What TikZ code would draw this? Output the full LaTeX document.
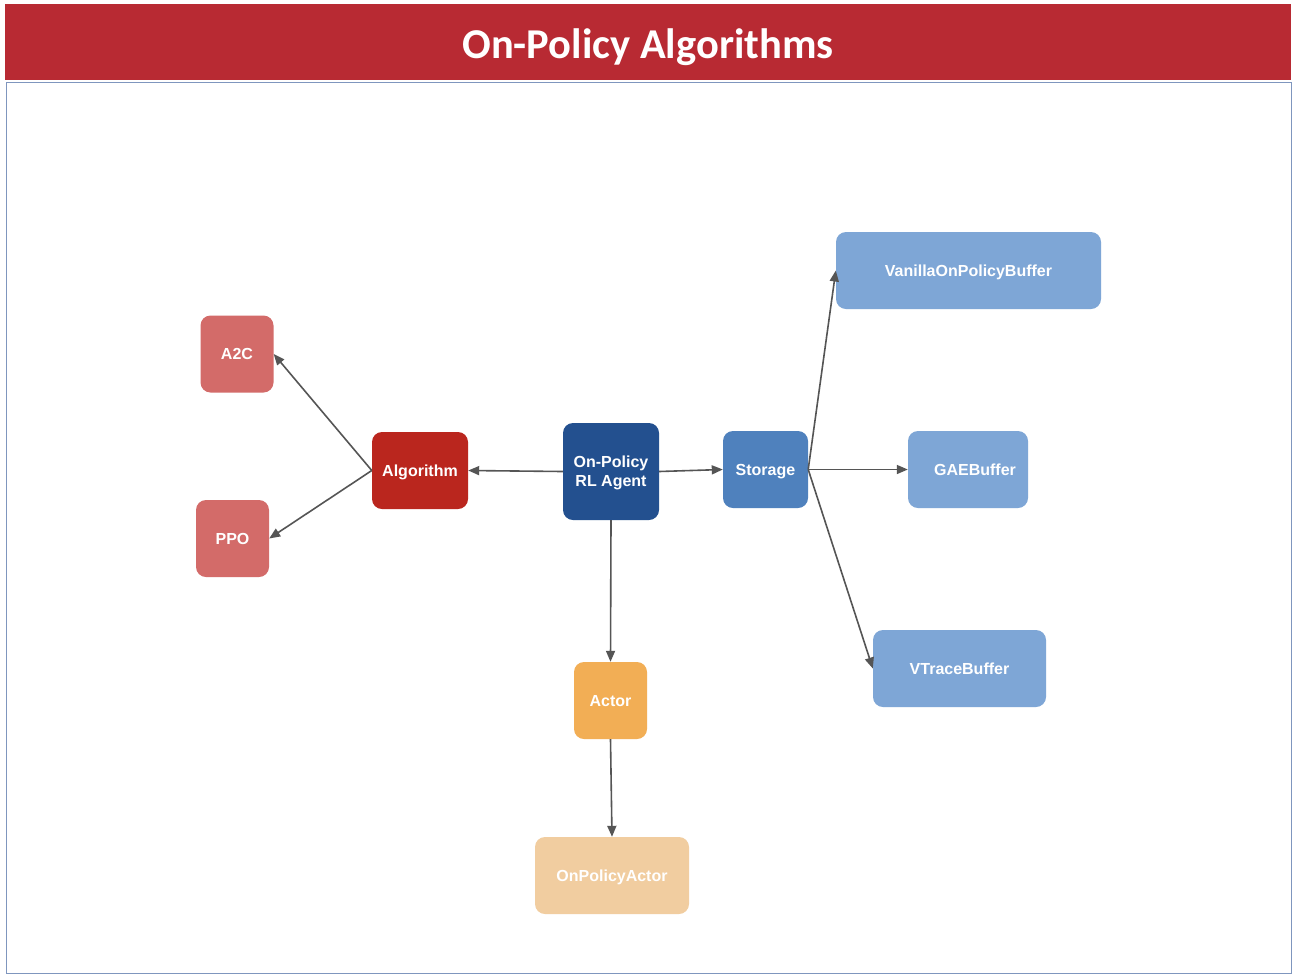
\documentclass[tikz,border=0pt]{standalone}
\usepackage{fontspec}
\setmainfont{Liberation Sans}
\newfontfamily\titlefont{Carlito}
\usetikzlibrary{arrows.meta}
\definecolor{titlered}{HTML}{B82A33}
\definecolor{framecol}{HTML}{7F96BE}
\definecolor{algred}{HTML}{BA261E}
\definecolor{lightred}{HTML}{D36B69}
\definecolor{agentblue}{HTML}{23508F}
\definecolor{storblue}{HTML}{4F81BD}
\definecolor{bufblue}{HTML}{7EA6D6}
\definecolor{actorora}{HTML}{F2AE55}
\definecolor{lightora}{HTML}{F1CDA0}
\definecolor{arrowgray}{HTML}{555555}
\tikzset{
  box/.style={rectangle, rounded corners=10pt, draw=none, text=white, align=center,
    font=\fontsize{16}{19}\selectfont\bfseries, inner sep=0pt, text depth=-5pt},
  conn/.style={draw=arrowgray, line width=1.6pt, -{Triangle[length=11pt,width=9pt]}}
}
\begin{document}
\begin{tikzpicture}[x=1pt,y=-1pt]
\useasboundingbox (0,0) rectangle (1296,978);
\fill[white] (0,0) rectangle (1296,978);
% title band
\node[fill=titlered, minimum width=1286pt, minimum height=76pt, inner sep=0pt, anchor=north west] (title) at (5,4) {};
\node[text=white, font=\titlefont\fontsize{42.5}{48}\selectfont\bfseries] (titletext) at (648,47) {On-Policy Algorithms};
% frame
\node[draw=framecol, line width=1pt, minimum width=1285pt, minimum height=891pt, inner sep=0pt, anchor=north west] (frame) at (6,82) {};
% nodes
\node[box, fill=lightred, minimum width=73pt, minimum height=77pt] (a2c) at (237,354) {A2C};
\node[box, fill=lightred, minimum width=73pt, minimum height=77pt] (ppo) at (232.5,538.5) {PPO};
\node[box, fill=algred, minimum width=96pt, minimum height=77pt] (alg) at (420,470.5) {Algorithm};
\node[box, fill=agentblue, minimum width=96pt, minimum height=97pt] (agent) at (611,471.5) {On-Policy\\RL Agent};
\node[box, fill=storblue, minimum width=85pt, minimum height=77pt] (stor) at (765.5,469.5) {Storage};
\node[box, fill=bufblue, minimum width=265pt, minimum height=77pt] (van) at (968.5,270.5) {VanillaOnPolicyBuffer};
\node[box, fill=bufblue, minimum width=120pt, minimum height=77pt] (gae) at (968,469.5) {\hspace*{14pt}GAEBuffer};
\node[box, fill=bufblue, minimum width=173pt, minimum height=77pt] (vtr) at (959.5,668.5) {VTraceBuffer};
\node[box, fill=actorora, minimum width=73pt, minimum height=77pt] (actor) at (610.5,700.5) {Actor};
\node[box, fill=lightora, minimum width=154pt, minimum height=77pt] (opa) at (612,875.5) {OnPolicyActor};
% connectors
\draw[conn] (agent.west) -- (alg.east);
\draw[conn] (agent.east) -- (stor.west);
\draw[conn] (agent.south) -- (actor.north);
\draw[conn] (actor.south) -- (opa.north);
\draw[conn] (alg.west) -- (a2c.east);
\draw[conn] (alg.west) -- (ppo.east);
\draw[conn] (stor.east) -- (van.west);
\draw[conn] (stor.east) -- (gae.west);
\draw[conn] (stor.east) -- (vtr.west);
\end{tikzpicture}
\end{document}
